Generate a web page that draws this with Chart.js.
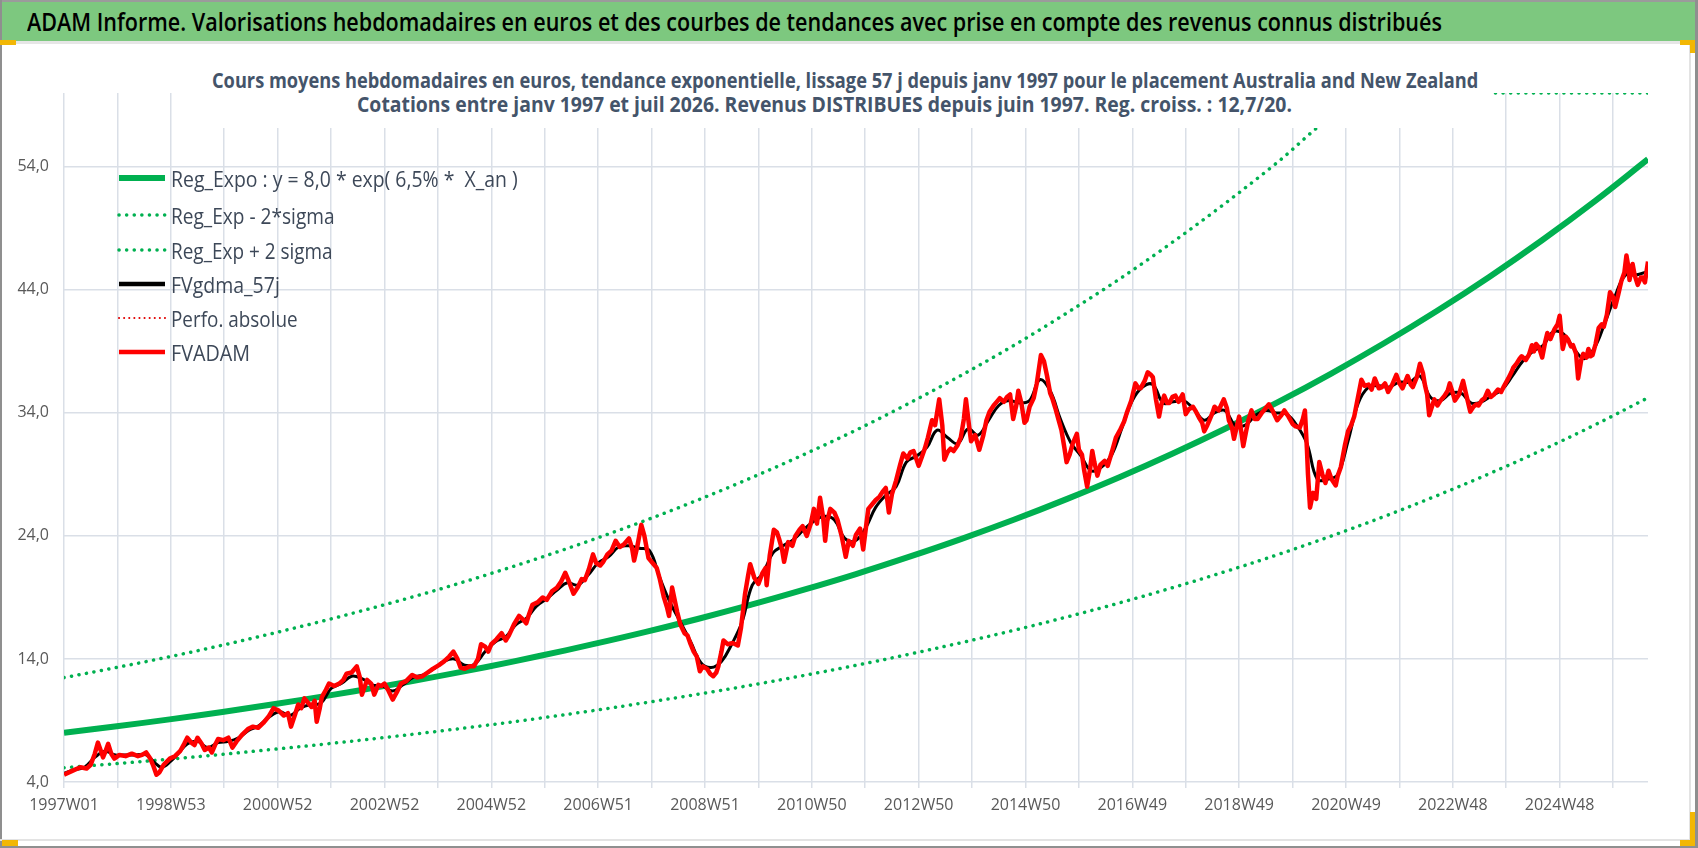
<!DOCTYPE html>
<html lang="fr">
<head>
<meta charset="utf-8">
<title>ADAM Informe - Australia and New Zealand</title>
<script src="https://cdn.jsdelivr.net/npm/chart.js@4.4.1/dist/chart.umd.min.js"></script>
<style>
html, body { margin: 0; padding: 0; background: #fff; }
#page { position: relative; width: 1698px; height: 848px; overflow: hidden; background: #fff;
  font-family: "Open Sans", "Noto Sans", sans-serif; }
#chart { position: absolute; left: 0; top: 0; }
#topbar { position: absolute; left: 0; top: 0; width: 1698px; height: 41px; background: #7DC87F;
  border-top: 2px solid #9b9b9b; box-sizing: border-box; }
.fit { position: absolute; white-space: nowrap; transform-origin: left center; display: inline-block; }
#title { left: 27px; top: 5px; font-size: 26px; line-height: 32px; font-weight: 600; color: #000; }
#subbox { position: absolute; left: 198px; top: 56px; width: 1292px; height: 72px; background: #fff; }
.sub { font-size: 21px; line-height: 24px; font-weight: 700; color: #44546A; }
#sub1 { left: 212px; top: 68px; }
#sub2 { left: 357px; top: 92px; }
#legend { position: absolute; left: 117px; top: 0; }
.lg-row { position: absolute; left: 0; height: 30px; white-space: nowrap; }
.lg-row svg { position: absolute; left: 0; top: 9px; }
.lg-row span { position: absolute; left: 54px; top: 0; font-size: 22px; line-height: 30px; color: #3D4858;
  white-space: pre; transform-origin: left center; display: inline-block; }
.line { position: absolute; }
.handle { position: absolute; background: #F2B705; }
</style>
</head>
<body>
<div id="page">
  <canvas id="chart" width="1698" height="848"></canvas>
  <div id="topbar"></div>
  <div class="line" style="left:0;top:41px;width:1698px;height:3px;background:#e6e6e6"></div>
  <span id="title" class="fit" data-w="1415">ADAM Informe. Valorisations hebdomadaires en euros et des courbes de tendances avec prise en compte des revenus connus distribués</span>
  <div id="subbox"></div>
  <span id="sub1" class="fit sub" data-w="1266">Cours moyens hebdomadaires en euros, tendance exponentielle, lissage 57 j depuis janv 1997  pour le placement Australia and New Zealand</span>
  <span id="sub2" class="fit sub" data-w="935">Cotations entre janv 1997 et juil 2026. Revenus DISTRIBUES depuis juin 1997. Reg. croiss. : 12,7/20.</span>
  <div id="legend"></div>
  <div class="line" style="left:0;top:0;width:2px;height:848px;background:#8f8f8f"></div>
  <div class="line" style="left:0;top:839px;width:1690px;height:2px;background:#e3e3e3"></div>
  <div class="line" style="left:1689px;top:44px;width:2px;height:797px;background:#e3e3e3"></div>
  <div class="line" style="left:0;top:846px;width:1698px;height:2px;background:#8f8f8f"></div>
  <div class="line" style="left:1695px;top:0;width:3px;height:848px;background:#8f8f8f"></div>
  <div class="handle" style="left:0;top:40px;width:16px;height:5px"></div>
  <div class="handle" style="left:1680px;top:40px;width:15px;height:5px"></div>
  <div class="handle" style="left:1690px;top:40px;width:5px;height:13px"></div>
  <div class="handle" style="left:2px;top:840px;width:16px;height:6px"></div>
  <div class="handle" style="left:1680px;top:840px;width:15px;height:6px"></div>
  <div class="handle" style="left:1690px;top:812px;width:5px;height:34px"></div>
</div>
<script>
// tick labels / axis values
const xTickLabels = ['1997W01', '1998W53', '2000W52', '2002W52', '2004W52', '2006W51', '2008W51',
  '2010W50', '2012W50', '2014W50', '2016W49', '2018W49', '2020W49', '2022W48', '2024W48'];
const yTickValues = [4, 14, 24, 34, 44, 54];
const gridWeeks = [0, 52, 104, 156, 208, 260, 312, 364, 416, 468, 520, 572, 624, 676, 728, 780,
  832, 884, 936, 988, 1040, 1092, 1144, 1196, 1248, 1300, 1352, 1404, 1456, 1508];
const Y_MIN = 4, Y_MAX = 60, X_MAX = 1542;

// trend curves, 31 evenly spaced samples over the whole period (week index)
const trendWeeks = [0, 51.4, 102.8, 154.2, 205.6, 257, 308.4, 359.8, 411.2, 462.6, 514, 565.4,
  616.8, 668.2, 719.6, 771, 822.4, 873.8, 925.2, 976.6, 1028, 1079.4, 1130.8, 1182.2, 1233.6,
  1285, 1336.4, 1387.8, 1439.2, 1490.6, 1542];
const regExpo = [8.00, 8.53, 9.09, 9.69, 10.34, 11.02, 11.75, 12.52, 13.35, 14.24, 15.18, 16.18,
  17.25, 18.39, 19.61, 20.90, 22.29, 23.76, 25.33, 27.01, 28.79, 30.70, 32.73, 34.89, 37.20,
  39.66, 42.28, 45.07, 48.05, 51.23, 54.62];
const regLow = [5.16, 5.50, 5.86, 6.25, 6.67, 7.11, 7.58, 8.08, 8.61, 9.18, 9.79, 10.44, 11.13,
  11.86, 12.65, 13.48, 14.38, 15.33, 16.34, 17.42, 18.57, 19.80, 21.11, 22.50, 23.99, 25.58,
  27.27, 29.07, 30.99, 33.04, 35.23];
const regHigh = [12.48, 13.31, 14.18, 15.12, 16.13, 17.19, 18.33, 19.53, 20.83, 22.21, 23.68,
  25.24, 26.91, 28.69, 30.59, 32.60, 34.77, 37.07, 39.51, 42.14, 44.91, 47.89, 51.06, 54.43,
  58.03, 61.87, 65.96, 70.31, 74.96, 79.92, 85.21];

// FVgdma_57j (smoothed), [week, value]
const gdma = [[0,4.7],[10,5.0],[20,5.2],[30,6.0],[40,6.5],[50,6.2],[60,6.2],[70,6.2],[80,6.2],
  [88,5.6],[95,5.2],[104,5.7],[112,6.4],[120,7.1],[130,7.3],[140,6.8],[150,7.2],[160,7.3],
  [170,7.6],[180,8.2],[190,8.6],[200,9.3],[210,9.7],[220,9.4],[230,10.0],[240,10.3],[250,10.4],
  [260,11.6],[270,12.0],[280,12.6],[290,12.4],[300,11.9],[310,11.8],[320,11.4],[330,11.9],
  [340,12.5],[350,12.7],[360,13.2],[370,13.8],[380,14.0],[390,13.5],[400,13.6],[410,14.6],
  [420,15.4],[430,15.8],[440,16.8],[450,17.3],[460,18.3],[470,18.9],[480,19.6],[490,20.2],
  [500,20.0],[510,20.8],[520,21.8],[530,22.3],[540,23.1],[550,23.2],[560,23.0],[570,22.8],
  [580,20.6],[590,18.6],[600,17.0],[610,15.4],[620,13.7],[630,13.3],[640,13.8],[650,15.2],
  [660,17.0],[670,20.0],[680,20.9],[690,22.6],[700,23.2],[710,23.7],[720,24.5],[730,25.2],
  [740,25.6],[750,25.3],[760,23.8],[770,23.6],[780,24.6],[790,26.3],[800,27.3],[810,28.0],
  [820,30.0],[830,30.5],[840,31.2],[850,32.6],[860,32.0],[870,31.5],[880,32.7],[890,32.2],
  [900,33.4],[910,34.6],[920,35.0],[930,34.8],[940,35.0],[950,36.7],[960,35.8],[970,33.5],
  [980,31.6],[990,30.5],[1000,29.3],[1010,29.6],[1020,30.6],[1030,32.8],[1040,35.0],[1050,36.1],
  [1060,36.3],[1070,34.8],[1080,34.9],[1090,35.0],[1100,34.3],[1110,33.4],[1120,34.0],
  [1130,34.2],[1140,33.0],[1150,33.0],[1160,33.8],[1170,34.2],[1180,34.0],[1190,33.9],
  [1200,33.0],[1210,31.5],[1220,28.6],[1230,28.6],[1240,29.0],[1250,31.7],[1260,34.8],
  [1270,36.1],[1280,36.2],[1290,36.1],[1300,36.5],[1310,36.5],[1320,37.0],[1330,35.3],
  [1340,35.0],[1350,35.6],[1360,35.6],[1370,34.8],[1380,34.9],[1390,35.4],[1400,35.9],
  [1410,37.0],[1420,38.2],[1430,39.0],[1440,39.5],[1450,40.6],[1460,40.4],[1470,39.2],
  [1480,38.4],[1490,39.3],[1500,41.3],[1510,43.5],[1520,45.2],[1530,45.2],[1542,45.5]];

// FVADAM weekly valuation, [week, value]
const fvadam = [[0,4.6],[8,4.9],[16,5.2],[22,5.1],[26,5.4],[30,6.3],[33,7.2],[36,6.5],[38,6.0],
  [40,6.4],[43,7.1],[46,6.3],[49,5.9],[54,6.2],[60,6.1],[66,6.3],[72,6.1],[76,6.2],[80,6.4],
  [84,5.9],[87,5.3],[90,4.6],[93,4.8],[97,5.4],[103,5.9],[108,6.1],[113,6.5],[117,7.1],[120,7.6],
  [124,7.2],[127,7.0],[130,7.6],[134,7.1],[137,6.6],[141,6.8],[144,6.4],[147,7.0],[150,7.5],
  [155,7.4],[160,7.6],[164,6.8],[168,7.3],[174,7.9],[179,8.3],[184,8.5],[189,8.4],[194,8.8],
  [199,9.3],[204,10.0],[209,9.8],[214,9.4],[218,9.6],[221,8.5],[225,9.5],[228,10.3],[231,10.0],
  [234,10.8],[238,10.4],[241,10.1],[244,10.6],[246,8.9],[249,10.0],[251,10.9],[255,11.5],
  [258,12.0],[263,11.8],[268,12.0],[272,12.3],[275,12.8],[280,12.9],[285,13.4],[288,12.5],
  [290,11.1],[293,11.8],[295,12.3],[299,12.0],[302,11.1],[306,11.9],[309,11.8],[312,12.0],
  [316,11.4],[320,10.7],[324,11.3],[328,12.0],[333,12.2],[339,12.7],[344,12.5],[349,12.6],
  [354,12.9],[359,13.2],[365,13.5],[370,13.8],[375,14.2],[379,14.6],[383,14.0],[386,13.3],
  [390,13.2],[395,13.4],[399,13.4],[403,14.0],[406,15.2],[410,15.0],[413,14.6],[416,15.2],
  [421,15.6],[426,16.1],[430,15.5],[433,15.9],[438,16.8],[443,17.5],[447,17.2],[450,16.9],
  [453,17.7],[456,18.4],[461,18.6],[466,19.0],[470,18.8],[475,19.5],[480,19.8],[484,20.3],
  [488,21.0],[492,20.2],[496,19.3],[500,19.8],[504,20.5],[507,20.4],[511,21.3],[515,22.5],
  [518,21.8],[522,21.6],[525,21.9],[529,22.5],[533,22.8],[537,23.6],[541,23.1],[545,23.3],
  [550,23.8],[553,23.0],[555,22.0],[558,23.1],[562,24.9],[565,24.0],[569,22.2],[573,21.8],
  [577,21.4],[580,20.5],[584,19.0],[587,18.2],[589,17.5],[592,19.8],[595,18.6],[597,17.8],
  [600,16.8],[604,16.1],[607,15.9],[610,15.2],[613,14.6],[616,14.2],[619,13.0],[622,13.4],
  [626,13.2],[629,12.8],[632,12.6],[635,12.9],[637,13.4],[640,14.6],[642,15.5],[646,15.2],
  [651,15.3],[656,15.1],[659,16.5],[663,19.3],[666,20.8],[668,21.7],[672,20.6],[676,20.1],
  [680,21.0],[683,21.4],[684,20.0],[687,22.4],[691,24.5],[694,24.3],[696,23.8],[699,22.9],
  [701,21.9],[705,23.5],[709,23.2],[712,24.0],[716,24.5],[719,24.8],[723,24.0],[727,25.0],
  [730,26.2],[733,25.0],[736,27.1],[739,25.5],[741,23.6],[743,25.2],[746,26.2],[750,25.9],
  [753,25.3],[757,24.0],[761,22.3],[764,23.6],[768,23.2],[771,24.1],[775,24.6],[778,22.9],
  [781,24.9],[783,26.2],[787,26.6],[790,26.9],[794,27.2],[797,27.6],[800,27.9],[803,25.9],
  [806,27.4],[810,28.5],[814,29.8],[817,30.7],[821,30.3],[824,30.8],[827,30.9],[830,30.2],
  [832,29.7],[835,30.4],[838,31.1],[841,32.0],[845,33.4],[848,33.0],[852,35.1],[855,33.0],
  [857,30.2],[860,30.8],[863,31.1],[866,30.9],[870,31.4],[873,32.0],[876,33.5],[878,35.1],
  [881,33.0],[883,31.7],[887,32.2],[891,31.0],[895,32.2],[898,33.4],[901,34.1],[905,34.6],
  [908,34.9],[911,35.2],[915,34.9],[918,35.3],[921,35.5],[924,33.5],[927,34.6],[929,35.8],
  [932,34.8],[935,33.2],[937,33.4],[940,34.5],[944,35.2],[947,36.4],[951,38.7],[954,38.2],
  [957,37.0],[960,35.6],[962,35.2],[965,34.4],[968,33.5],[971,32.6],[974,31.1],[976,30.0],
  [979,30.6],[982,31.5],[986,32.3],[988,31.0],[991,30.6],[993,29.4],[996,28.0],[999,29.5],
  [1001,30.9],[1003,30.0],[1006,28.9],[1009,29.8],[1013,30.1],[1016,29.7],[1020,30.8],
  [1024,32.0],[1028,32.6],[1032,33.3],[1035,34.1],[1039,35.0],[1043,36.4],[1046,36.0],
  [1048,36.0],[1052,36.6],[1055,37.3],[1058,37.1],[1060,36.9],[1063,35.1],[1066,33.7],
  [1068,34.6],[1071,35.4],[1074,34.8],[1076,34.8],[1079,35.3],[1082,35.4],[1085,34.9],
  [1089,35.5],[1092,33.9],[1095,34.3],[1099,34.5],[1102,34.1],[1105,33.6],[1108,33.2],
  [1110,32.5],[1113,33.0],[1115,33.4],[1118,34.0],[1120,34.5],[1124,34.2],[1129,35.1],
  [1132,34.4],[1134,33.4],[1137,32.8],[1139,31.9],[1142,33.0],[1144,33.7],[1146,32.5],
  [1148,31.3],[1151,32.6],[1153,33.4],[1156,34.2],[1159,33.5],[1162,33.5],[1166,34.0],
  [1170,34.4],[1173,34.7],[1177,34.1],[1181,33.4],[1185,33.8],[1188,34.2],[1192,33.7],
  [1196,33.1],[1199,32.9],[1203,32.8],[1206,33.5],[1208,34.2],[1210,31.0],[1211,29.0],
  [1213,26.3],[1216,27.5],[1219,27.0],[1222,30.0],[1225,29.0],[1228,28.3],[1231,29.3],
  [1234,28.6],[1238,28.1],[1240,28.9],[1243,29.6],[1247,31.4],[1250,32.5],[1253,33.0],
  [1256,33.7],[1259,35.0],[1263,36.7],[1266,36.2],[1270,36.3],[1273,35.9],[1276,36.8],
  [1280,36.0],[1283,36.1],[1286,36.4],[1289,35.7],[1293,36.3],[1297,37.1],[1300,36.4],
  [1303,36.0],[1306,36.6],[1308,37.0],[1311,36.3],[1313,36.1],[1317,36.9],[1320,38.0],
  [1323,37.2],[1325,36.2],[1327,35.5],[1329,33.8],[1332,34.6],[1334,35.1],[1337,34.6],
  [1340,35.0],[1344,35.4],[1347,35.8],[1349,36.4],[1352,35.6],[1354,35.0],[1358,35.5],
  [1362,36.6],[1365,35.5],[1369,34.1],[1372,34.5],[1375,34.7],[1377,34.6],[1380,35.0],
  [1383,35.2],[1386,35.8],[1389,35.3],[1392,35.5],[1396,35.9],[1399,35.7],[1402,36.2],
  [1406,36.8],[1409,37.3],[1411,37.7],[1414,38.0],[1417,38.4],[1419,38.6],[1423,38.3],
  [1426,38.7],[1429,39.5],[1431,39.0],[1433,39.6],[1436,39.3],[1439,38.5],[1442,39.8],
  [1444,40.5],[1447,40.0],[1451,40.8],[1454,41.2],[1456,41.9],[1459,39.2],[1462,40.2],
  [1464,40.0],[1467,39.4],[1469,39.5],[1472,38.8],[1474,36.8],[1477,38.3],[1479,38.8],
  [1482,38.5],[1484,39.2],[1486,38.6],[1488,38.7],[1491,39.6],[1494,40.9],[1497,41.2],
  [1499,41.0],[1502,42.0],[1505,43.8],[1508,43.4],[1510,42.6],[1513,43.6],[1516,44.7],
  [1519,45.4],[1521,46.8],[1523,45.8],[1524,44.8],[1527,46.1],[1529,45.2],[1532,44.4],
  [1535,45.0],[1537,45.0],[1539,44.6],[1542,46.3]];

const perfoAbsolue = [];

const GREEN = '#00B050', RED = '#FF0000', GRID = '#DADFE7';
const DOTS = [0.1, 7.5];

let toPoints = (weeks, values) => weeks.map((w, i) => ({ x: w, y: values[i] }));
let pairPoints = (pairs) => pairs.map(p => ({ x: p[0], y: p[1] }));

const datasets = [
  { label: 'Reg_Expo : y = 8,0 * exp( 6,5% *  X_an )', data: toPoints(trendWeeks, regExpo),
    borderColor: GREEN, borderWidth: 6, tension: 0.4, order: 5 },
  { label: 'Reg_Exp - 2*sigma', data: toPoints(trendWeeks, regLow),
    borderColor: GREEN, borderWidth: 3.5, borderDash: DOTS, borderCapStyle: 'round',
    tension: 0.4, order: 4 },
  // Excel keeps the out-of-range part of the band on the top edge
  { label: 'Reg_Exp + 2 sigma', data: toPoints(trendWeeks, regHigh.map(v => Math.min(v, Y_MAX))),
    borderColor: GREEN, borderWidth: 3.5, borderDash: DOTS, borderCapStyle: 'round',
    cubicInterpolationMode: 'monotone', order: 3 },
  { label: 'FVgdma_57j', data: pairPoints(gdma), borderColor: '#000000', borderWidth: 3,
    tension: 0.4, order: 2 },
  { label: 'Perfo. absolue', data: perfoAbsolue, borderColor: '#E00000', borderWidth: 2,
    borderDash: [0.1, 5], borderCapStyle: 'round', order: 1 },
  { label: 'FVADAM', data: pairPoints(fvadam), borderColor: RED, borderWidth: 4.5,
    borderJoinStyle: 'round', tension: 0, order: 0 }
];
datasets.forEach(d => { d.pointRadius = 0; d.fill = false; });

const axisFont = { family: '"Open Sans", "Noto Sans", sans-serif', size: 16 };

const config = {
  type: 'line',
  data: { datasets },
  options: {
    responsive: false,
    animation: false,
    layout: { padding: { left: 0, top: 93, right: 50, bottom: 0 } },
    plugins: { legend: { display: false }, tooltip: { enabled: false } },
    scales: {
      x: {
        type: 'linear', min: 0, max: X_MAX,
        afterBuildTicks: (scale) => { scale.ticks = gridWeeks.map(v => ({ value: v })); },
        afterFit: (scale) => { scale.height = 66; },
        grid: { color: GRID, lineWidth: 1.5, tickLength: 6, drawTicks: true },
        border: { display: false },
        ticks: {
          autoSkip: false, maxRotation: 0, minRotation: 0, padding: 8,
          color: '#595959', font: axisFont,
          callback: (v) => (v % 104 === 0 ? xTickLabels[v / 104] : '')
        }
      },
      y: {
        min: Y_MIN, max: Y_MAX,
        afterBuildTicks: (scale) => { scale.ticks = yTickValues.map(v => ({ value: v })); },
        afterFit: (scale) => { scale.width = 64; },
        grid: { color: GRID, lineWidth: 1.5, drawTicks: false },
        border: { display: false },
        ticks: {
          padding: 15, color: '#595959', font: axisFont,
          callback: (v) => v.toFixed(1).replace('.', ',')
        }
      }
    }
  }
};

let myChart = new Chart(document.getElementById('chart'), config);

// legend inside the plot, top left
const legendRows = [178, 215, 250, 284, 318, 352];
const legendWidths = [347, 164, 162, 109, 127, 79];   // text widths in the original
let legend = document.getElementById('legend');
myChart.data.datasets.forEach((ds, i) => {
  let row = document.createElement('div');
  row.className = 'lg-row';
  row.style.top = (legendRows[i] - 15) + 'px';
  let dash = ds.borderDash ? 'stroke-dasharray="' + ds.borderDash.join(' ') + '" stroke-linecap="round"' : '';
  let w = ds.borderDash ? ds.borderWidth : Math.max(ds.borderWidth, 4.5);
  row.innerHTML = '<svg width="50" height="12"><line x1="2" y1="6" x2="48" y2="6" stroke="' +
    ds.borderColor + '" stroke-width="' + w + '" ' + dash + '/></svg><span></span>';
  let span = row.querySelector('span');
  span.textContent = ds.label;
  legend.appendChild(row);
  if (span.offsetWidth > 0) span.style.transform = 'scaleX(' + (legendWidths[i] / span.offsetWidth) + ')';
});

// squeeze the header lines to the reference widths
document.querySelectorAll('.fit').forEach(el => {
  let w = el.offsetWidth;
  let target = parseFloat(el.dataset.w);
  if (w > 0) el.style.transform = 'scaleX(' + (target / w) + ')';
});
</script>
</body>
</html>
